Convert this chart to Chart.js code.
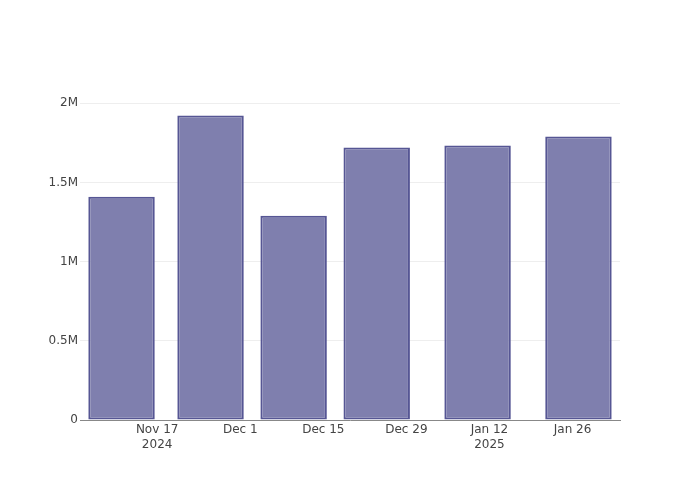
<!DOCTYPE html>
<html>
<head>
<meta charset="utf-8">
<script src="https://cdn.jsdelivr.net/npm/chart.js@4/dist/chart.umd.min.js"></script>
<style>
    html, body { margin: 0; padding: 0; background: #fff; }
    #wrap { width: 700px; height: 500px; }
</style>
</head>
<body>
<div id="wrap"><canvas id="chart" width="700" height="500"></canvas></div>
<script>
// Data
const barDates = ['2024-11-11', '2024-11-26', '2024-12-10', '2024-12-24', '2025-01-10', '2025-01-27'];
const barValues = [1410000, 1922000, 1290000, 1720000, 1732000, 1790000];

// x axis ticks (every two weeks)
const tickDates = ['2024-11-17', '2024-12-01', '2024-12-15', '2024-12-29', '2025-01-12', '2025-01-26'];
const tickLabels = [['Nov 17', '2024'], 'Dec 1', 'Dec 15', 'Dec 29', ['Jan 12', '2025'], 'Jan 26'];

// Days since Nov 17 2024 for the linear x scale
const base = Date.UTC(2024, 10, 17);
function toDay(s) {
    const [y, m, d] = s.split('-').map(Number);
    return (Date.UTC(y, m - 1, d) - base) / 86400000;
}

const tickDays = tickDates.map(toDay);
const points = barDates.map((d, i) => ({ x: toDay(d), y: barValues[i] }));

Chart.defaults.font.family = '"DejaVu Sans", Verdana, sans-serif';
Chart.defaults.font.size = 12;
Chart.defaults.color = '#444';

const ctx = document.getElementById('chart').getContext('2d');
new Chart(ctx, {
    type: 'bar',
    data: {
        datasets: [{
            data: points,
            backgroundColor: 'rgb(127, 127, 174)',
            borderColor: 'rgb(86, 86, 148)',
            borderWidth: 2,
            borderSkipped: false,
            barPercentage: 0.8,
            categoryPercentage: 1
        }]
    },
    options: {
        responsive: false,
        animation: false,
        layout: { padding: { top: 100, right: 80, left: 0, bottom: 0 } },
        plugins: {
            legend: { display: false },
            tooltip: { enabled: false }
        },
        scales: {
            x: {
                type: 'linear',
                offset: false,
                min: -13,
                max: 78,
                afterBuildTicks: axis => {
                    axis.ticks = tickDays.map(v => ({ value: v }));
                },
                afterFit: axis => { axis.height = 80; },
                grid: { display: false, drawTicks: false, offset: false },
                border: { display: true, color: '#888', width: 1 },
                ticks: {
                    padding: 3,
                    autoSkip: false,
                    maxRotation: 0,
                    callback: (value, index) => tickLabels[index]
                }
            },
            y: {
                min: 0,
                max: 2020000,
                afterBuildTicks: axis => {
                    axis.ticks = [0, 500000, 1000000, 1500000, 2000000].map(v => ({ value: v }));
                },
                afterFit: axis => { axis.width = 80; },
                grid: { color: '#eee', drawTicks: false },
                border: { display: false },
                ticks: {
                    padding: 2,
                    callback: value => value === 0 ? '0' : (value / 1e6) + 'M'
                }
            }
        }
    }
});
</script>
</body>
</html>
